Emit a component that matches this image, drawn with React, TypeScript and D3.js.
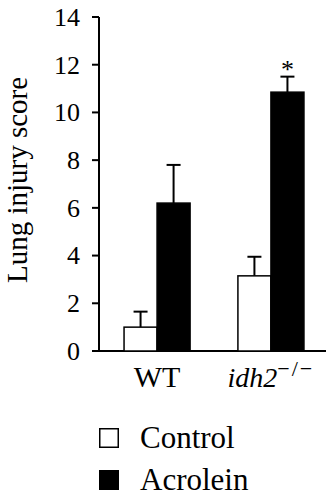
import React from 'react'
import * as d3 from 'd3'

const groups = ['WT', 'idh2']
const series = ['Control', 'Acrolein']
const means = [
    [1.0, 6.2],
    [3.15, 10.85]
]
const errors = [
    [0.65, 1.6],
    [0.8, 0.65]
]
const yTicks = [0, 2, 4, 6, 8, 10, 12, 14]
const fills = ['#fff', '#000']
const starred = [[false, false], [false, true]]

const font = 'Liberation Serif'

const App = () => {
    const width = 329
    const height = 500
    const axisX = 99
    const y = d3.scaleLinear().domain([0, 14]).range([351, 17])
    const x0 = d3.scaleBand().domain(groups).range([axisX, 329]).paddingInner(0.42).paddingOuter(0.22)
    const x1 = d3.scaleBand().domain(series).range([0, x0.bandwidth()])

    return (
        <svg width={width} height={height} style={{ position: 'absolute', left: 0, top: 0, fontFamily: font }}>
            {/* y axis */}
            <line x1={axisX} x2={axisX} y1={y(14)} y2={y(0)} stroke="#000" strokeWidth={2} />
            {yTicks.map(t =>
                <g key={t}>
                    <line x1={axisX - 7} x2={axisX} y1={y(t)} y2={y(t)} stroke="#000" strokeWidth={2} />
                    <text x={80} y={y(t)} dy="0.34em" textAnchor="end" fontSize={26} style={{ fontFamily: font }}>{t}</text>
                </g>
            )}
            <line x1={axisX - 7} x2={326} y1={y(0)} y2={y(0)} stroke="#000" strokeWidth={2} />
            <text transform={`translate(27,180) rotate(-90)`} textAnchor="middle" fontSize={29} style={{ fontFamily: font }}>Lung injury score</text>

            {/* bars */}
            {groups.map((g, gi) =>
                <g key={g} transform={`translate(${x0(g)},0)`}>
                    {series.map((s, si) => {
                        const bx = x1(s) as number
                        const cx = bx + x1.bandwidth() / 2
                        const top = y(means[gi][si])
                        const errTop = y(means[gi][si] + errors[gi][si])
                        return (
                            <g key={s}>
                                <line x1={cx} x2={cx} y1={top} y2={errTop} stroke="#000" strokeWidth={2} />
                                <line x1={cx - 7} x2={cx + 7} y1={errTop} y2={errTop} stroke="#000" strokeWidth={2} />
                                <rect x={bx} y={top} width={x1.bandwidth()} height={y(0) - top}
                                    fill={fills[si]} stroke="#000" strokeWidth={1.5} />
                                {starred[gi][si] &&
                                    <text x={cx} y={errTop + 1} textAnchor="middle" fontSize={26} style={{ fontFamily: font }}>*</text>}
                            </g>
                        )
                    })}
                </g>
            )}

            {/* x labels */}
            <text x={(x0('WT') as number) + x0.bandwidth() / 2} y={387} textAnchor="middle" fontSize={30} style={{ fontFamily: font }}>WT</text>
            <text x={(x0('idh2') as number) + x0.bandwidth() / 2} y={387} textAnchor="middle" fontSize={28} style={{ fontFamily: font }}>
                <tspan fontStyle="italic">idh2</tspan>
                <tspan fontSize={22} dy={-11} letterSpacing={2}>−/−</tspan>
            </text>

            {/* legend */}
            {series.map((s, si) =>
                <g key={s} transform={`translate(99,${428 + si * 42})`}>
                    <rect x={0.75} y={0.75} width={18.5} height={18.5} fill={fills[si]} stroke="#000" strokeWidth={1.5} />
                    <text x={41} y={19.5} fontSize={31} style={{ fontFamily: font }}>{s}</text>
                </g>
            )}
        </svg>
    )
}

export default App
